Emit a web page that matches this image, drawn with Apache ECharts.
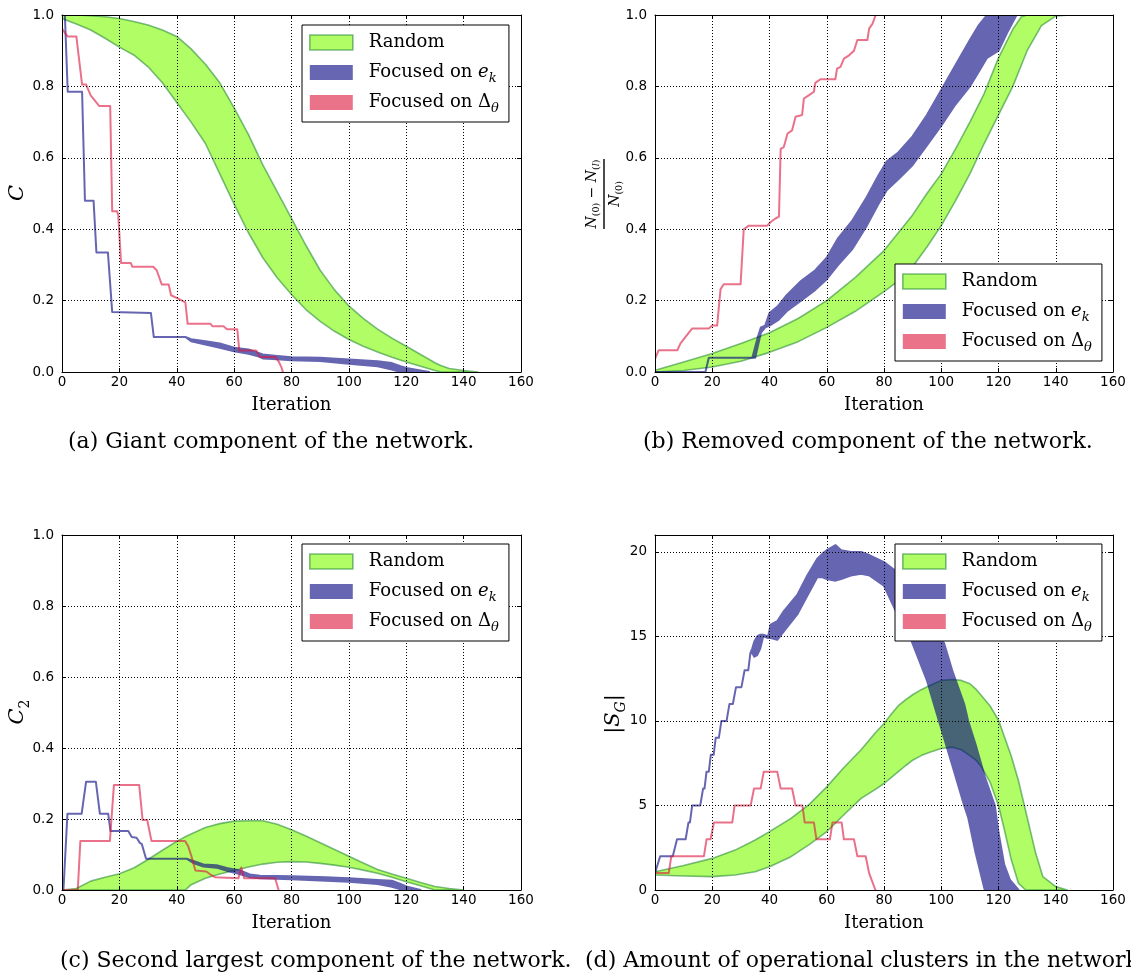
<!DOCTYPE html>
<html>
<head>
<meta charset="utf-8">
<script src="https://cdn.jsdelivr.net/npm/echarts@6/dist/echarts.min.js"></script>
<style>
  html, body { margin: 0; padding: 0; background: #fff; }
  #chart { width: 1131px; height: 978px; }
</style>
</head>
<body>
<div id="chart"></div>
<script>
// Each series is a list of [iteration, low, high]; a plain line uses [iteration, value].

// (a) Giant component C
const aRandom = [
  [0,0.99,1.0],[5,0.975,1.0],[10,0.958,0.998],[15,0.935,0.995],[20,0.91,0.99],[25,0.888,0.982],
  [30,0.855,0.972],[35,0.81,0.958],[40,0.755,0.94],[45,0.70,0.905],[50,0.64,0.862],[55,0.555,0.81],
  [60,0.47,0.74],[65,0.39,0.665],[70,0.32,0.58],[75,0.264,0.505],[80,0.217,0.43],[85,0.175,0.355],
  [90,0.142,0.285],[95,0.114,0.23],[100,0.091,0.185],[105,0.072,0.15],[110,0.056,0.12],[115,0.041,0.095],
  [120,0.028,0.072],[125,0.016,0.049],[130,0.004,0.026],[132,0,0.018],[135,0,0.01],[140,0,0.004],[145,0,0]
];
const aFocusEk = [
  [0,1,1],[1,1,1],[2,0.785,0.785],[7,0.785,0.785],[8,0.48,0.48],[11,0.48,0.48],[12,0.335,0.335],
  [16,0.335,0.335],[17.5,0.168,0.168],[31,0.165,0.165],[32,0.098,0.098],[43,0.098,0.098],
  [45,0.086,0.092],[50,0.077,0.086],[55,0.068,0.08],[60,0.058,0.068],[65,0.051,0.063],[68,0.045,0.055],
  [70,0.038,0.049],[75,0.036,0.045],[80,0.033,0.041],[90,0.031,0.04],[100,0.023,0.035],[110,0.016,0.03],
  [115,0.007,0.025],[118,0,0.016],[120,0,0.011],[125,0,0.004],[128,0,0]
];
const aFocusDelta = [
  [0,0.962],[1,0.95],[2,0.94],[5,0.94],[7,0.805],[8.4,0.805],[10,0.775],[13,0.745],[16.8,0.745],
  [17.5,0.45],[19.2,0.45],[19.6,0.44],[20.6,0.305],[24,0.305],[24.5,0.295],[31.8,0.295],[33,0.285],
  [34.8,0.245],[37.2,0.245],[38,0.215],[40.7,0.205],[43,0.195],[43.8,0.135],[51.8,0.135],[52.4,0.128],
  [56.3,0.128],[57.5,0.12],[61.1,0.12],[61.8,0.06],[67.7,0.06],[69,0.042],[74.3,0.042],[75.5,0.03],
  [76.5,0.013],[77,0]
];

// (b) Removed fraction (N(0) - N(l)) / N(0)
const bRandom = [
  [0,0,0.005],[10,0.004,0.028],[20,0.014,0.052],[30,0.03,0.08],[40,0.055,0.11],[50,0.085,0.15],
  [60,0.125,0.2],[70,0.17,0.265],[80,0.225,0.34],[85,0.255,0.39],[90,0.295,0.44],[95,0.35,0.5],
  [100,0.41,0.555],[105,0.48,0.625],[110,0.555,0.70],[115,0.64,0.78],[120,0.72,0.88],[125,0.80,0.96],
  [128,0.86,0.995],[130,0.90,1],[135,0.97,1],[140,0.997,1],[145,1,1]
];
const bFocusEk = [
  [0,0,0],[17.6,0,0],[18.8,0.04,0.04],[34,0.04,0.04],[35,0.04,0.07],[36,0.075,0.1],[37,0.11,0.125],
  [38.5,0.125,0.13],[40,0.13,0.165],[43,0.145,0.185],[46,0.17,0.215],[51,0.2,0.255],[56,0.23,0.285],
  [60,0.26,0.32],[64,0.3,0.375],[69,0.345,0.425],[74,0.41,0.49],[78,0.47,0.55],[81,0.51,0.59],
  [85,0.54,0.615],[90,0.58,0.66],[95,0.635,0.72],[100,0.69,0.79],[105,0.75,0.86],[110,0.8,0.93],
  [113,0.84,0.97],[116,0.88,1],[120,0.9,1],[123,0.95,1],[126.3,1,1]
];
const bFocusDelta = [
  [0,0.037],[1.3,0.061],[7.8,0.061],[8.9,0.08],[13,0.122],[18.8,0.122],[20,0.13],[21.7,0.13],
  [22.9,0.232],[24,0.246],[29.9,0.246],[31,0.4],[32.8,0.41],[39.2,0.41],[40.4,0.42],[42.1,0.43],
  [43.3,0.435],[43.9,0.625],[45,0.63],[46.3,0.668],[47.9,0.677],[49.1,0.715],[51.4,0.72],[52,0.766],
  [53.7,0.775],[55.5,0.785],[56,0.81],[57.8,0.82],[63,0.82],[63.6,0.85],[64.8,0.855],[66,0.878],
  [67.8,0.887],[69.5,0.9],[70.7,0.93],[74.2,0.93],[74.8,0.962],[76,0.976],[77.1,1.0]
];

// (c) Second largest component C2
const cRandom = [
  [0,0,0],[5,0,0.004],[10,0,0.025],[15,0,0.036],[20,0,0.046],[25,0,0.062],[30,0,0.086],[35,0,0.112],
  [40,0,0.137],[43,0,0.15],[45,0.015,0.158],[50,0.033,0.176],[55,0.045,0.187],[60,0.055,0.194],
  [65,0.065,0.195],[70,0.073,0.195],[75,0.078,0.185],[80,0.08,0.17],[85,0.079,0.152],[90,0.075,0.133],
  [95,0.07,0.114],[100,0.064,0.095],[105,0.056,0.076],[110,0.047,0.058],[115,0.036,0.045],
  [120,0.023,0.033],[125,0.012,0.021],[130,0,0.01],[135,0,0.004],[140,0,0]
];
const cFocusEk = [
  [0,0,0],[0.5,0,0],[1.9,0.215,0.215],[6.85,0.215,0.215],[8.4,0.305,0.305],[11.8,0.305,0.305],
  [13.2,0.215,0.215],[16.1,0.215,0.215],[16.9,0.166,0.166],[23.1,0.166,0.166],[24.3,0.149,0.149],
  [26,0.147,0.147],[27.2,0.132,0.132],[27.8,0.13,0.13],[29.3,0.088,0.088],[43.4,0.088,0.088],
  [45.8,0.076,0.082],[49.3,0.066,0.072],[53.9,0.063,0.07],[57.4,0.054,0.062],[62,0.045,0.055],
  [65.5,0.036,0.044],[69,0.033,0.04],[80,0.03,0.039],[92,0.026,0.036],[100,0.023,0.033],
  [110,0.017,0.028],[115,0.009,0.026],[118,0.002,0.017],[120,0,0.01],[125,0,0]
];
const cFocusDelta = [
  [0,0],[5.5,0],[6.4,0.138],[16.7,0.138],[18.1,0.296],[26.9,0.296],[28.1,0.197],[29.7,0.197],
  [31.2,0.138],[42.9,0.138],[44,0.123],[45.2,0.093],[46.5,0.055],[50.3,0.052],[51.5,0.045],
  [53.3,0.036],[61.5,0.033],[62.5,0.063],[63.5,0.033],[74.3,0.033],[75.5,0]
];

// (d) Operational clusters |S_G|
const dRandom = [
  [0,0.89,1.08],[10,0.83,1.45],[20,0.79,1.87],[28,0.89,2.36],[35,1.08,2.96],[40,1.38,3.45],
  [47.5,1.97,4.24],[54,2.7,5.08],[60,3.45,6.1],[66,4.45,7.25],[72,5.42,8.3],[77,5.95,9.3],[80,6.3,9.85],
  [82.5,6.65,10.4],[85,7.0,10.9],[87.5,7.35,11.25],[90,7.68,11.55],[93,7.95,11.85],[96,8.15,12.1],
  [100,8.37,12.4],[104,8.45,12.45],[107,8.3,12.4],[110,7.95,12.2],[112,7.7,11.9],[114,7.3,11.5],
  [117,6.4,10.9],[120,5.0,10.05],[122,3.6,9.1],[124.5,1.77,7.9],[127,0.39,6.45],[129.5,0,4.66],
  [133,0,2.17],[135.5,0,0.79],[140,0,0.2],[144,0,0]
];
const dFocusEk = [
  [0,1,1],[1.8,2,2],[6.2,2,2],[7.7,3,3],[10.7,3,3],[11.7,4,4],[12.2,4,4],[13,5,5],[15.8,5,5],
  [16.8,6,6],[17.3,6,6],[18,7,7],[18.8,7,7],[19.5,8,8],[20.5,8,8],[21.2,9,9],[22.3,9,9],[23.2,10,10],
  [25,10,10],[26,11,11],[27.2,11,11],[28.3,12,12],[30.2,12,12],[31.3,13,13],[32.6,13,13],[33.3,14,14],
  [34,14,14.3],[34.7,13.8,14.7],[35.7,13.9,15],[36.8,14.3,15.1],[37.8,15,15.1],[39.5,14.9,15],
  [40.4,14.9,15.7],[42.7,14.8,15.9],[45,15.3,16.5],[49.7,16.3,17.45],[53.2,17.4,18.6],[56.7,18.5,19.6],
  [58.5,18.5,19.9],[60,18.4,20.1],[63.1,18.3,20.4],[65,18.4,20.1],[68.4,18.6,20.0],[72,18.7,20.0],
  [75,18.6,19.8],[80,18.0,19.4],[84.7,16.3,18.8],[89,15.0,17.6],[95,12.4,16.0],[99.2,10,15.0],
  [101,9.0,14.6],[104,7.3,12.9],[108,5,11.0],[109.4,4.3,10],[112,2.2,8.6],[115.2,0,6.7],[118.7,0,5],
  [120,0,3.4],[122,0,1.5],[124,0,0.6],[127,0,0]
];
const dFocusDelta = [
  [0,1],[4.8,1],[5.7,2],[17.1,2],[18,3],[19.4,3],[20.6,4],[27,4],[27.8,5],[33.4,5],[34.6,6],[36.9,6],
  [38,7],[42.7,7],[43.9,6],[47.9,6],[49.1,5],[51.5,5],[52.3,4],[55.5,4],[56.4,3],[61.1,3],[62,4],
  [65.2,4],[66,3],[69.5,3],[70.7,2],[73.6,2],[74.8,1],[77,0]
];

const xTickStep = 20;
const xMax = 160;
const captions = [
  '(a) Giant component of the network.',
  '(b) Removed component of the network.',
  '(c) Second largest component of the network.',
  '(d) Amount of operational clusters in the network.'
];

const NAME_RANDOM = 'Random';
const NAME_EK = 'Focused on e_k';
const NAME_DELTA = 'Focused on Delta_theta';

const SERIF = 'DejaVu Serif';
const SANS = 'DejaVu Sans';
const GREEN_FILL = '#b0fd66';
const GREEN_EDGE = 'rgba(30,130,50,0.55)';
const NAVY = '#000080';
const CRIMSON = '#dc143c';
const BLUE_KEY = '#6666b3';
const RED_KEY = '#ea7289';
const LAYER_ALPHA = 0.6;

// Plot boxes and legend anchors
const panels = [
  { grid: { left: 62, top: 15, width: 459, height: 357 }, yMax: 1, yStep: 0.2, fmt: v => v.toFixed(1),
    series: [aRandom, aFocusEk, aFocusDelta], legend: { left: 302, top: 25 } },
  { grid: { left: 655, top: 15, width: 458, height: 357 }, yMax: 1, yStep: 0.2, fmt: v => v.toFixed(1),
    series: [bRandom, bFocusEk, bFocusDelta], legend: { left: 895, top: 264 } },
  { grid: { left: 62, top: 535, width: 459, height: 355 }, yMax: 1, yStep: 0.2, fmt: v => v.toFixed(1),
    series: [cRandom, cFocusEk, cFocusDelta], legend: { left: 302, top: 544 } },
  { grid: { left: 655, top: 535, width: 458, height: 355 }, yMax: 21, yStep: 5,
    fmt: v => (Math.abs(v % 5) < 1e-9 ? String(v) : ''),
    series: [dRandom, dFocusEk, dFocusDelta], legend: { left: 895, top: 544 } }
];

// Filled band between low and high edges, stroked around its outline.
function bandRenderer(band, style) {
  return function (params, api) {
    const upper = [];
    const lower = [];
    for (const p of band) {
      upper.push(api.coord([p[0], p.length > 2 ? p[2] : p[1]]));
      lower.push(api.coord([p[0], p[1]]));
    }
    lower.reverse();
    return {
      type: 'polygon',
      silent: true,
      shape: { points: upper.concat(lower) },
      style: Object.assign({ lineJoin: 'round' }, style)
    };
  };
}

const dotted = { color: '#000', width: 1, type: [1, 2] };
const axisLine = { show: true, onZero: false, lineStyle: { color: '#000', width: 1 } };
const tickIn = { show: true, inside: true, length: 4, lineStyle: { color: '#000', width: 1 } };
const tickFont = { color: '#000', fontFamily: SANS, fontSize: 13.5 };

const grids = [], xAxes = [], yAxes = [], series = [], legends = [], graphics = [];

const legendRich = {
  n: { fontFamily: SERIF, fontSize: 18, lineHeight: 26, color: '#000' },
  i: { fontFamily: SERIF, fontSize: 18, fontStyle: 'italic', lineHeight: 26, color: '#000' },
  s: { fontFamily: SERIF, fontSize: 13, fontStyle: 'italic', lineHeight: 11, verticalAlign: 'bottom', color: '#000' }
};

panels.forEach((p, i) => {
  grids.push(Object.assign({ containLabel: false }, p.grid));
  xAxes.push({
    type: 'value', gridIndex: i, min: 0, max: xMax, interval: xTickStep, position: 'bottom', zlevel: 4,
    axisLine, axisTick: tickIn,
    axisLabel: Object.assign({ show: true, margin: 3 }, tickFont),
    splitLine: { show: true, lineStyle: dotted }
  });
  xAxes.push({
    type: 'value', gridIndex: i, min: 0, max: xMax, interval: xTickStep, position: 'top', zlevel: 4,
    axisLine, axisTick: tickIn, axisLabel: { show: false }, splitLine: { show: false }
  });
  yAxes.push({
    type: 'value', gridIndex: i, min: 0, max: p.yMax, interval: p.yStep, position: 'left', zlevel: 4,
    axisLine, axisTick: tickIn,
    axisLabel: Object.assign({ show: true, margin: 8, formatter: p.fmt }, tickFont),
    splitLine: { show: true, lineStyle: dotted }
  });
  yAxes.push({
    type: 'value', gridIndex: i, min: 0, max: p.yMax, interval: p.yStep, position: 'right', zlevel: 4,
    axisLine, axisTick: tickIn, axisLabel: { show: false }, splitLine: { show: false }
  });

  const common = {
    type: 'custom', coordinateSystem: 'cartesian2d', xAxisIndex: 2 * i, yAxisIndex: 2 * i,
    data: [[0, 0]], encode: { x: 0, y: 1 }, clip: true, silent: true, animation: false
  };
  series.push(Object.assign({}, common, {
    name: NAME_RANDOM, zlevel: 1, itemStyle: { color: GREEN_FILL },
    renderItem: bandRenderer(p.series[0], { fill: GREEN_FILL, stroke: GREEN_EDGE, lineWidth: 1.6 })
  }));
  series.push(Object.assign({}, common, {
    name: NAME_EK, zlevel: 2, itemStyle: { color: BLUE_KEY },
    renderItem: bandRenderer(p.series[1], { fill: NAVY, stroke: NAVY, lineWidth: 2 })
  }));
  series.push(Object.assign({}, common, {
    name: NAME_DELTA, zlevel: 3, itemStyle: { color: RED_KEY },
    renderItem: bandRenderer(p.series[2], { fill: CRIMSON, stroke: CRIMSON, lineWidth: 2 })
  }));

  legends.push({
    show: true, orient: 'vertical', left: p.legend.left, top: p.legend.top, zlevel: 5,
    selectedMode: false,
    itemWidth: 43, itemHeight: 15, itemGap: 4,
    padding: [4.5, 10, 6.5, 7],
    backgroundColor: '#fff', borderColor: '#000', borderWidth: 1, borderRadius: 0,
    data: [
      { name: NAME_RANDOM, icon: 'rect', itemStyle: { color: GREEN_FILL, borderColor: GREEN_EDGE, borderWidth: 1.6 } },
      { name: NAME_EK, icon: 'rect', itemStyle: { color: BLUE_KEY, borderWidth: 0 } },
      { name: NAME_DELTA, icon: 'rect', itemStyle: { color: RED_KEY, borderWidth: 0 } }
    ],
    textStyle: { fontFamily: SERIF, fontSize: 18, lineHeight: 26, color: '#000', padding: [0, 0, 0, 11], rich: legendRich },
    formatter: name => name === NAME_EK ? '{n|Focused on }{i|e}{s|k}'
      : name === NAME_DELTA ? '{n|Focused on Δ}{s|θ}' : '{n|Random}'
  });

  const g = p.grid;
  graphics.push({
    type: 'text', x: g.left + g.width / 2, y: g.top + g.height + 33.5,
    style: { text: 'Iteration', fontFamily: SERIF, fontSize: 18, fill: '#000', align: 'center', verticalAlign: 'middle' }
  });
});

// Axis titles
const tokenRich = (base, sub, lines) => ({
  m: { fontFamily: SERIF, fontSize: base, fontStyle: 'italic', lineHeight: lines[0], fill: '#000' },
  u: { fontFamily: SERIF, fontSize: base, lineHeight: lines[0], fill: '#000' },
  s: { fontFamily: SERIF, fontSize: sub, lineHeight: lines[1], verticalAlign: 'bottom', fill: '#000' },
  si: { fontFamily: SERIF, fontSize: sub, fontStyle: 'italic', lineHeight: lines[1], verticalAlign: 'bottom', fill: '#000' }
});
graphics.push({
  type: 'text', x: 18, y: 193, rotation: Math.PI / 2,
  style: { text: '{m|C}', align: 'center', verticalAlign: 'middle', rich: tokenRich(21, 14, [28, 14]) }
});
graphics.push({
  type: 'text', x: 18, y: 712, rotation: Math.PI / 2,
  style: { text: '{m|C}{s|2}', align: 'center', verticalAlign: 'middle', rich: tokenRich(21, 14, [28, 14]) }
});
graphics.push({
  type: 'text', x: 614, y: 714, rotation: Math.PI / 2,
  style: { text: '{u||}{m|S}{si|G}{u||}', align: 'center', verticalAlign: 'middle', rich: tokenRich(21, 14, [28, 14]) }
});
const fracRich = tokenRich(14, 9.5, [19, 9.5]);
graphics.push({
  type: 'group', x: 604, y: 194, rotation: Math.PI / 2,
  children: [
    { type: 'text', x: 0, y: -2,
      style: { text: '{m|N}{s|(0)}{u| − }{m|N}{s|(}{si|l}{s|)}', align: 'center', verticalAlign: 'bottom', rich: fracRich } },
    { type: 'line', shape: { x1: -35, y1: 0, x2: 35, y2: 0 }, style: { stroke: '#000', lineWidth: 1.4 } },
    { type: 'text', x: 0, y: 2,
      style: { text: '{m|N}{s|(0)}', align: 'center', verticalAlign: 'top', rich: fracRich } }
  ]
});

// Sub-figure captions
const captionPos = [[68, 442], [643, 442], [60, 961], [585, 961]];
captions.forEach((t, i) => {
  graphics.push({
    type: 'text', x: captionPos[i][0], y: captionPos[i][1],
    style: { text: t, fontFamily: SERIF, fontSize: 22, fill: '#000', align: 'left', verticalAlign: 'middle' }
  });
});

const chart = echarts.init(document.getElementById('chart'), null, { renderer: 'canvas' });
chart.setOption({
  backgroundColor: '#fff',
  animation: false,
  grid: grids,
  xAxis: xAxes,
  yAxis: yAxes,
  series: series,
  legend: legends,
  graphic: { elements: graphics }
});

// Blue and red layers are composited translucently as whole layers,
// so overlapping fill and stroke inside one band keep a uniform tint.
function fadeLayer(zlevel, alpha) {
  let dom = null;
  const painter = chart.getZr().painter;
  if (painter && typeof painter.getLayer === 'function') {
    const layer = painter.getLayer(zlevel);
    dom = layer && layer.dom;
  }
  if (!dom) dom = document.querySelector('[data-zr-dom-id="zr_' + zlevel + '"]');
  if (dom) dom.style.opacity = String(alpha);
}
function applyLayers() { fadeLayer(2, LAYER_ALPHA); fadeLayer(3, LAYER_ALPHA); }
applyLayers();
chart.on('finished', applyLayers);
</script>
</body>
</html>
